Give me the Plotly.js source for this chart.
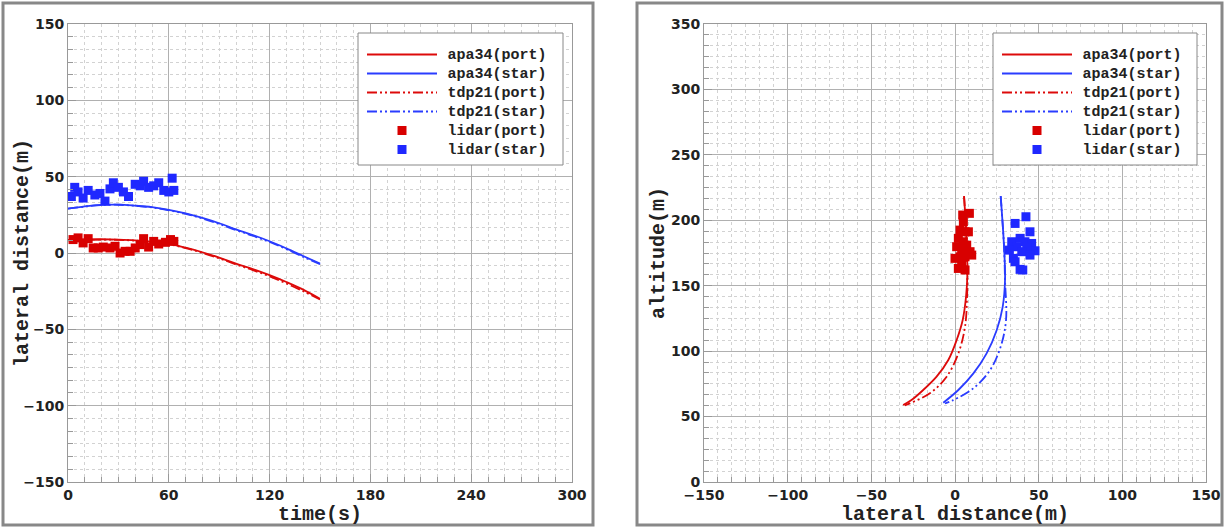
<!DOCTYPE html>
<html><head><meta charset="utf-8">
<script src="https://cdn.plot.ly/plotly-3.0.1.min.js"></script>
<style>html,body{margin:0;padding:0;background:#fff;}#chart{width:1225px;height:528px;}</style>
</head><body><div id="chart"></div>
<script>
// ---------- Left panel: lateral distance vs time ----------
const timeS = [0,10,20,30,40,50,60,70,80,90,100,110,120,130,140,150];
const apa34PortT = [8.5,8.8,9,8.8,8.3,7.3,6,3.5,0.5,-3,-7,-10.5,-14.5,-19,-24,-30];
const tdp21PortT = [8.3,8.6,8.8,8.6,8.1,7.1,5.7,3.2,0.1,-3.5,-7.5,-11.2,-15.3,-20,-25,-30.5];
const apa34StarT = [29,30.5,31.5,31.7,31,30,28.3,26,23,19.5,15.5,11.8,7.7,3,-2,-7];
const tdp21StarT = [29,30.4,31.4,31.6,30.9,29.8,28,25.7,22.6,19,15,11.3,7.2,2.5,-2.5,-7.3];
const lidarPortTime = [3,6,9,12,15,18,21,25,28,31,34,37,40,43,45,48,51,54,58,61,63];
const lidarPortLat  = [8.8,9.9,6.6,9.4,3.3,3.3,3.9,3.3,4.4,0,1.1,1.1,3.3,5.5,9.4,3.9,7.6,5.9,7,8.8,7.6];
const lidarStarTime = [2,4,6,9,12,16,19,22,25,27,30,33,36,40,43,45,48,51,54,57,60,62,63];
const lidarStarLat  = [37,43,40,36,41,38,39,34,42,46,43,40,37,45,44,47,43,44,46,41,40,49,41];

// ---------- Right panel: altitude vs lateral distance ----------
const apa34PortAlt = [218.5,192.5,159.4,141.6,123.8,108.5,93.2,80.5,70.3,62.6,58.8];
const apa34PortLat = [5.4,6.6,7.4,6.6,4.6,1,-4,-11,-19,-26,-31];
const tdp21PortAlt = [218.5,192.5,159.4,141.6,118.7,98.3,80.5,67.8,60.1,58.5];
const tdp21PortLat = [5.4,6.6,7.4,7.2,6,2,-5,-15,-27,-30];
const apa34StarAlt = [218.5,179.8,154.3,133.9,116,98.3,83,70.3,60.6];
const apa34StarLat = [27.3,29.3,29.9,28.5,24.9,18.9,11,2,-7];
const tdp21StarAlt = [218.5,179.8,154.3,123.8,103.4,85.6,71.6,62.6,60];
const tdp21StarLat = [27.3,29.3,29.9,30.5,27.3,21,11,-1,-6];
const lidarPortLatR = [4.6,8.6,3,6,8,2,5,7,9,0,3,6,10,4,2,6,5,1,4];
const lidarPortAltR = [204,205.3,192.5,191.2,191.2,186.2,183.6,181,176,170.9,172.1,172.1,173.4,167,163.2,162,198.9,179.8,177.2];
const lidarStarLatR = [42.4,35.9,44.8,33.9,38.9,41.8,45.8,47.8,36.9,42.9,39.9,44.8,34.9,35.9,38.9,40.5,32.5];
const lidarStarAltR = [202.7,197.6,191.2,183.6,186.2,183.6,182.3,176.7,179.8,179.8,176,173.4,170.9,168.3,162.5,162,177.2];

const legendNames = ['apa34(port)','apa34(star)','tdp21(port)','tdp21(star)','lidar(port)','lidar(star)'];

const RED = '#dd0a0a', BLUE = '#2a3cff';
const SQ_RED = '#d80000', SQ_BLUE = '#1f28ff';
const DASH = '10px,3px,2px,3px,2px,3px';
const lbl = t => '<span style="font-size:9px">\u00a0</span><span style="font-size:15px">' + t + '</span>';

function panelTraces(xs, ys, axes, leg) {
  const [xa, ya] = axes;
  const base = {xaxis: xa, yaxis: ya, legend: leg};
  return [
    Object.assign({type:'scatter', mode:'lines', x: xs[0], y: ys[0], name: lbl(legendNames[0]), line:{color:RED, width:1.8, shape:'spline'}}, base),
    Object.assign({type:'scatter', mode:'lines', x: xs[1], y: ys[1], name: lbl(legendNames[1]), line:{color:BLUE, width:1.8, shape:'spline'}}, base),
    Object.assign({type:'scatter', mode:'lines', x: xs[2], y: ys[2], name: lbl(legendNames[2]), line:{color:RED, width:1.8, dash:DASH, shape:'spline'}}, base),
    Object.assign({type:'scatter', mode:'lines', x: xs[3], y: ys[3], name: lbl(legendNames[3]), line:{color:BLUE, width:1.8, dash:DASH, shape:'spline'}}, base),
    Object.assign({type:'scatter', mode:'markers', x: xs[4], y: ys[4], name: lbl(legendNames[4]), marker:{symbol:'square', size:9, color:SQ_RED}}, base),
    Object.assign({type:'scatter', mode:'markers', x: xs[5], y: ys[5], name: lbl(legendNames[5]), marker:{symbol:'square', size:9, color:SQ_BLUE}}, base)
  ];
}

const traces = [].concat(
  panelTraces(
    [timeS, timeS, timeS, timeS, lidarPortTime, lidarStarTime],
    [apa34PortT, apa34StarT, tdp21PortT, tdp21StarT, lidarPortLat, lidarStarLat],
    ['x','y'], 'legend'),
  panelTraces(
    [apa34PortLat, apa34StarLat, tdp21PortLat, tdp21StarLat, lidarPortLatR, lidarStarLatR],
    [apa34PortAlt, apa34StarAlt, tdp21PortAlt, tdp21StarAlt, lidarPortAltR, lidarStarAltR],
    ['x2','y2'], 'legend2')
);

const W = 1225, H = 528;
const px = x => x / W, py = y => 1 - y / H;
const tickFont = {family:'DejaVu Sans', size:14, color:'#222', weight:'bold'};
const titleFont = {family:'Liberation Mono', size:20, color:'#222', weight:'bold'};
const legFont = {family:'Liberation Mono', size:12, color:'#222', weight:'bold'};

function ax(extra, minorStep) {
  return Object.assign({
    showline:true, linecolor:'#999', linewidth:1, mirror:true,
    showgrid:true, gridcolor:'#b0b0b0', gridwidth:1, zeroline:false,
    ticks:'inside', ticklen:8, tickcolor:'#999', tickwidth:1,
    tickfont: tickFont, automargin:false, fixedrange:true,
    minor:{dtick:minorStep, showgrid:true, gridcolor:'#d2d2d2', griddash:'3px,3px', gridwidth:1, ticks:'inside', ticklen:5, tickcolor:'#999'}
  }, extra);
}

const legendBase = {xanchor:'left', yanchor:'top', bgcolor:'rgba(0,0,0,0)', borderwidth:0, font:legFont, itemwidth:70, tracegroupgap:0, itemclick:false, itemdoubleclick:false};

const layout = {
  width: W, height: H, margin:{l:0,r:0,t:0,b:0},
  paper_bgcolor:'#ffffff', plot_bgcolor:'#ffffff', showlegend:true,
  xaxis: ax({domain:[px(68),px(572)], range:[0,300], tick0:0, dtick:60, anchor:'y', title:{text:'time(s)', font:titleFont, standoff:3}}, 10),
  yaxis: ax({domain:[py(482),py(24)], range:[-150,150], tick0:0, dtick:50, anchor:'x'}, 50/6),
  xaxis2: ax({domain:[px(704),px(1206)], range:[-150,150], tick0:0, dtick:50, anchor:'y2', title:{text:'lateral distance(m)', font:titleFont, standoff:3}}, 50/6),
  yaxis2: ax({domain:[py(482),py(24)], range:[0,350], tick0:0, dtick:50, anchor:'x2', title:{text:'altitude(m)', font:titleFont, standoff:0}}, 50/6),
  legend: Object.assign({x:px(362), y:py(40)}, legendBase),
  legend2: Object.assign({x:px(997), y:py(40)}, legendBase),
  annotations: [
    {text:'lateral distance(m)', xref:'paper', yref:'paper', x:px(22), y:py(253), xanchor:'center', yanchor:'middle', textangle:-90, showarrow:false, font:titleFont}
  ],
  shapes: [
    {type:'rect', xref:'paper', yref:'paper', x0:px(3), x1:px(593), y0:py(525), y1:py(3), line:{color:'#888', width:3}, layer:'above'},
    {type:'rect', xref:'paper', yref:'paper', x0:px(637), x1:px(1222), y0:py(525), y1:py(3), line:{color:'#888', width:3}, layer:'above'},
    {type:'rect', xref:'paper', yref:'paper', x0:px(358), x1:px(563), y0:py(165), y1:py(33), line:{color:'#888', width:1}, fillcolor:'#ffffff', layer:'above'},
    {type:'rect', xref:'paper', yref:'paper', x0:px(993), x1:px(1197), y0:py(165), y1:py(33), line:{color:'#888', width:1}, fillcolor:'#ffffff', layer:'above'}
  ]
};

Plotly.newPlot('chart', traces, layout, {displayModeBar:false, staticPlot:true});
</script></body></html>
